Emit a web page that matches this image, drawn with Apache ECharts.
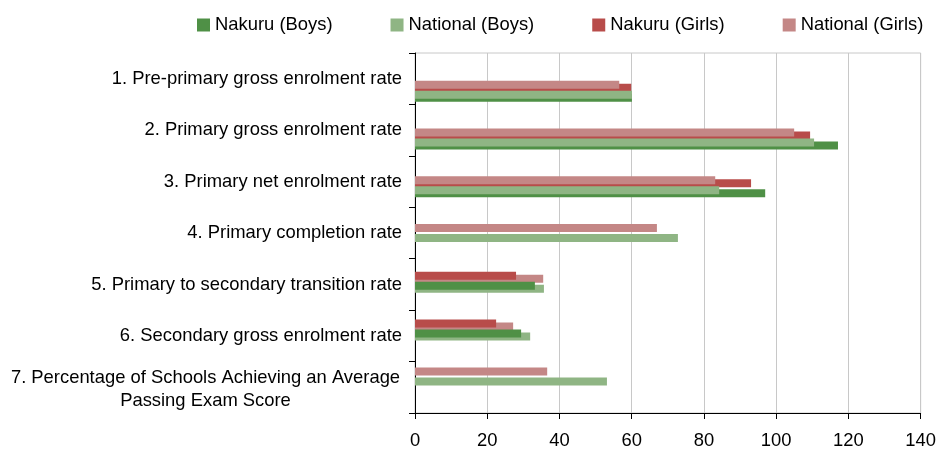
<!DOCTYPE html>
<html>
<head>
<meta charset="utf-8">
<script src="https://cdn.jsdelivr.net/npm/echarts@6/dist/echarts.min.js"></script>
<style>
  html, body { margin: 0; padding: 0; background: #fff; }
  #chart { width: 939px; height: 450px; }
</style>
</head>
<body>
<div id="chart"></div>
<script>
const categories = [
  "1. Pre-primary gross enrolment rate",
  "2. Primary gross enrolment rate",
  "3. Primary net enrolment rate",
  "4. Primary completion rate",
  "5. Primary to secondary transition rate",
  "6. Secondary gross enrolment rate",
  "7. Percentage of Schools Achieving an Average\nPassing Exam Score"
];
const nakuruBoys = [59.9, 116.8, 96.7, null, 33.1, 29.3, null];
const nationalBoys = [59.9, 110.2, 84.0, 72.6, 35.6, 31.8, 53.0];
const nakuruGirls = [59.7, 109.1, 92.8, null, 27.9, 22.4, null];
const nationalGirls = [56.4, 104.7, 82.9, 66.8, 35.4, 27.1, 36.5];
// rows where the Nakuru bar sits above the national one
const nakuruAboveRows = [4, 5];

const C_NAK_BOYS = "#4f9046";
const C_NAT_BOYS = "#8fb584";
const C_NAK_GIRLS = "#b84c4a";
const C_NAT_GIRLS = "#c48786";
const FONT = "'Liberation Sans', Arial, sans-serif";
const FS = 18.4;

function pick(values, swapped) {
  return values.map((v, i) => (nakuruAboveRows.includes(i) === swapped ? v : null));
}

// each bar "slot" gets its own hidden grid so the offsets can differ
const slots = [
  { top: 60.8, z: 5, members: [["National (Girls)", C_NAT_GIRLS, pick(nationalGirls, false)], ["Nakuru (Girls)", C_NAK_GIRLS, pick(nakuruGirls, true)]] },
  { top: 63.8, z: 3, members: [["Nakuru (Girls)", C_NAK_GIRLS, pick(nakuruGirls, false)], ["National (Girls)", C_NAT_GIRLS, pick(nationalGirls, true)]] },
  { top: 70.8, z: 4, members: [["National (Boys)", C_NAT_BOYS, pick(nationalBoys, false)], ["Nakuru (Boys)", C_NAK_BOYS, pick(nakuruBoys, true)]] },
  { top: 73.8, z: 2, members: [["Nakuru (Boys)", C_NAK_BOYS, pick(nakuruBoys, false)], ["National (Boys)", C_NAT_BOYS, pick(nationalBoys, true)]] }
];

const grids = [{ left: 415, right: 17, top: 53, height: 361, show: true, borderColor: "#c8c8c8", borderWidth: 1 }];
const xAxes = [{
  type: "value", gridIndex: 0, min: 0, max: 140, interval: 20,
  axisLine: { show: true, lineStyle: { color: "#000", width: 1 } },
  axisTick: { show: true, length: 6, lineStyle: { color: "#000" } },
  axisLabel: { fontSize: FS, color: "#000", fontFamily: FONT, margin: 19 },
  splitLine: { show: true, lineStyle: { color: "#c8c8c8", width: 1 } }
}];
const yAxes = [{
  type: "category", gridIndex: 0, inverse: true, data: categories,
  axisLine: { show: true, lineStyle: { color: "#000", width: 1 } },
  axisTick: { show: true, length: 6, lineStyle: { color: "#000" } },
  axisLabel: {
    fontSize: FS, color: "#000", fontFamily: FONT, margin: 13,
    formatter: function (v) {
      if (v.indexOf("\n") < 0) return v;
      return v.split("\n").map(s => "{c|" + s + "}").join("\n");
    },
    rich: { c: { width: 393, align: "center", fontSize: FS, lineHeight: 23, fontFamily: FONT, color: "#000", padding: [4, 0, 0, 0] } }
  }
}];
const series = [];

slots.forEach((slot, k) => {
  const gi = k + 1;
  grids.push({ left: 415, right: 17, top: slot.top, height: 334.5 });
  xAxes.push({ type: "value", gridIndex: gi, min: 0, max: 140, show: false });
  yAxes.push({ type: "category", gridIndex: gi, inverse: true, data: categories, show: false });
  slot.members.forEach(m => {
    series.push({
      name: m[0], type: "bar", xAxisIndex: gi, yAxisIndex: gi,
      data: m[2], barWidth: 8, barGap: "-100%", z: slot.z,
      itemStyle: { color: m[1] }, emphasis: { disabled: true }
    });
  });
});

const chart = echarts.init(document.getElementById("chart"));
chart.setOption({
  animation: false,
  textStyle: { fontFamily: FONT },
  legend: {
    data: ["Nakuru (Boys)", "National (Boys)", "Nakuru (Girls)", "National (Girls)"],
    left: 197, top: 16, padding: 0,
    icon: "rect", itemWidth: 13, itemHeight: 13, itemGap: 58,
    textStyle: { fontSize: FS, color: "#000", fontFamily: FONT }
  },
  grid: grids,
  xAxis: xAxes,
  yAxis: yAxes,
  series: series
});
</script>
</body>
</html>
